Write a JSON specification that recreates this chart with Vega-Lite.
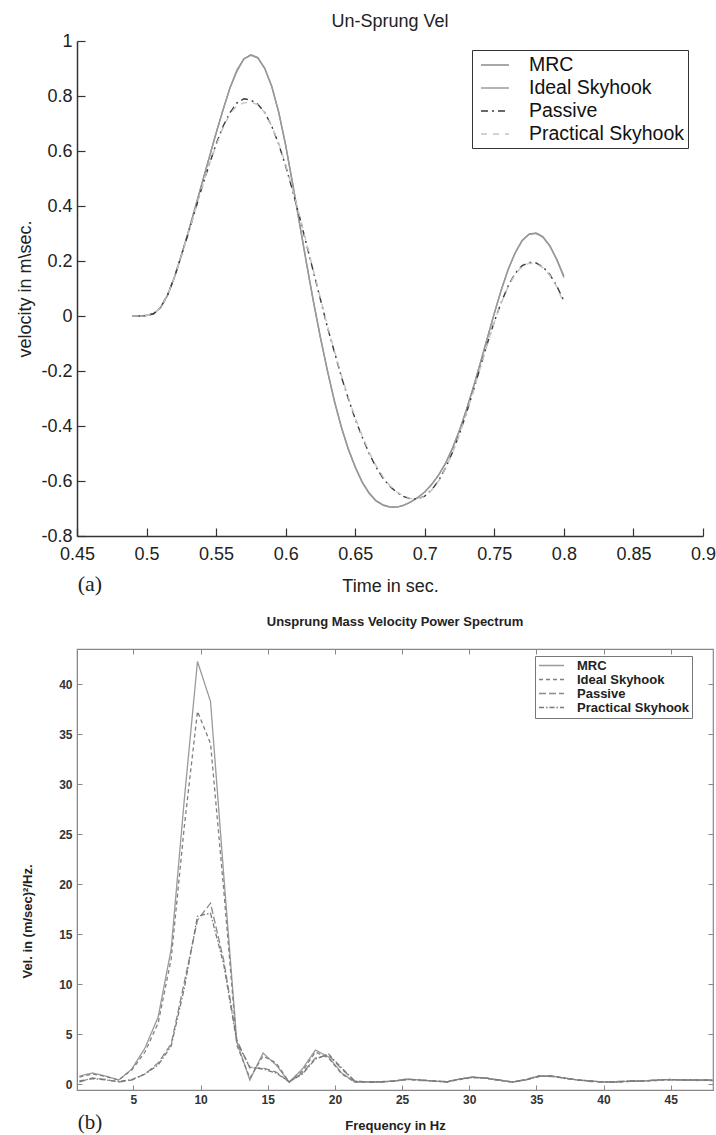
{
  "$schema": "https://vega.github.io/schema/vega-lite/v6.json",
  "background": "white",
  "padding": {"left": 16, "top": 13, "right": 0, "bottom": 0},
  "spacing": 113,
  "bounds": "flush",
  "config": {"font": "Liberation Sans", "view": {"stroke": null}},
  "resolve": {
    "scale": {"color": "independent", "strokeDash": "independent", "x": "independent", "y": "independent"},
    "legend": {"color": "independent", "strokeDash": "independent"}
  },
  "datasets": {
    "velocity": [
      {"t": 0.490, "MRC": 0, "Ideal Skyhook": 0, "Passive": 0, "Practical Skyhook": 0},
      {"t": 0.495, "MRC": 0, "Ideal Skyhook": 0, "Passive": 0, "Practical Skyhook": 0},
      {"t": 0.500, "MRC": 0.002, "Ideal Skyhook": 0.002, "Passive": 0.002, "Practical Skyhook": 0.002},
      {"t": 0.505, "MRC": 0.008, "Ideal Skyhook": 0.008, "Passive": 0.008, "Practical Skyhook": 0.008},
      {"t": 0.510, "MRC": 0.03, "Ideal Skyhook": 0.03, "Passive": 0.03, "Practical Skyhook": 0.03},
      {"t": 0.515, "MRC": 0.075, "Ideal Skyhook": 0.075, "Passive": 0.075, "Practical Skyhook": 0.075},
      {"t": 0.520, "MRC": 0.14, "Ideal Skyhook": 0.14, "Passive": 0.14, "Practical Skyhook": 0.14},
      {"t": 0.525, "MRC": 0.22, "Ideal Skyhook": 0.22, "Passive": 0.22, "Practical Skyhook": 0.22},
      {"t": 0.530, "MRC": 0.305, "Ideal Skyhook": 0.305, "Passive": 0.30, "Practical Skyhook": 0.30},
      {"t": 0.535, "MRC": 0.395, "Ideal Skyhook": 0.395, "Passive": 0.385, "Practical Skyhook": 0.385},
      {"t": 0.540, "MRC": 0.485, "Ideal Skyhook": 0.485, "Passive": 0.47, "Practical Skyhook": 0.47},
      {"t": 0.545, "MRC": 0.575, "Ideal Skyhook": 0.575, "Passive": 0.55, "Practical Skyhook": 0.55},
      {"t": 0.550, "MRC": 0.665, "Ideal Skyhook": 0.665, "Passive": 0.625, "Practical Skyhook": 0.62},
      {"t": 0.555, "MRC": 0.75, "Ideal Skyhook": 0.75, "Passive": 0.69, "Practical Skyhook": 0.685},
      {"t": 0.560, "MRC": 0.83, "Ideal Skyhook": 0.83, "Passive": 0.74, "Practical Skyhook": 0.735},
      {"t": 0.565, "MRC": 0.895, "Ideal Skyhook": 0.89, "Passive": 0.775, "Practical Skyhook": 0.765},
      {"t": 0.570, "MRC": 0.935, "Ideal Skyhook": 0.935, "Passive": 0.79, "Practical Skyhook": 0.775},
      {"t": 0.575, "MRC": 0.95, "Ideal Skyhook": 0.948, "Passive": 0.785, "Practical Skyhook": 0.778},
      {"t": 0.580, "MRC": 0.94, "Ideal Skyhook": 0.938, "Passive": 0.77, "Practical Skyhook": 0.768},
      {"t": 0.585, "MRC": 0.90, "Ideal Skyhook": 0.90, "Passive": 0.74, "Practical Skyhook": 0.74},
      {"t": 0.590, "MRC": 0.835, "Ideal Skyhook": 0.835, "Passive": 0.69, "Practical Skyhook": 0.69},
      {"t": 0.595, "MRC": 0.74, "Ideal Skyhook": 0.742, "Passive": 0.625, "Practical Skyhook": 0.628},
      {"t": 0.600, "MRC": 0.62, "Ideal Skyhook": 0.622, "Passive": 0.545, "Practical Skyhook": 0.55},
      {"t": 0.605, "MRC": 0.48, "Ideal Skyhook": 0.483, "Passive": 0.455, "Practical Skyhook": 0.46},
      {"t": 0.610, "MRC": 0.335, "Ideal Skyhook": 0.338, "Passive": 0.36, "Practical Skyhook": 0.365},
      {"t": 0.615, "MRC": 0.19, "Ideal Skyhook": 0.193, "Passive": 0.26, "Practical Skyhook": 0.265},
      {"t": 0.620, "MRC": 0.05, "Ideal Skyhook": 0.053, "Passive": 0.16, "Practical Skyhook": 0.165},
      {"t": 0.625, "MRC": -0.08, "Ideal Skyhook": -0.077, "Passive": 0.06, "Practical Skyhook": 0.065},
      {"t": 0.630, "MRC": -0.20, "Ideal Skyhook": -0.197, "Passive": -0.04, "Practical Skyhook": -0.035},
      {"t": 0.635, "MRC": -0.31, "Ideal Skyhook": -0.307, "Passive": -0.13, "Practical Skyhook": -0.125},
      {"t": 0.640, "MRC": -0.405, "Ideal Skyhook": -0.402, "Passive": -0.22, "Practical Skyhook": -0.215},
      {"t": 0.645, "MRC": -0.485, "Ideal Skyhook": -0.482, "Passive": -0.30, "Practical Skyhook": -0.295},
      {"t": 0.650, "MRC": -0.55, "Ideal Skyhook": -0.548, "Passive": -0.375, "Practical Skyhook": -0.37},
      {"t": 0.655, "MRC": -0.605, "Ideal Skyhook": -0.603, "Passive": -0.44, "Practical Skyhook": -0.435},
      {"t": 0.660, "MRC": -0.645, "Ideal Skyhook": -0.643, "Passive": -0.50, "Practical Skyhook": -0.495},
      {"t": 0.665, "MRC": -0.673, "Ideal Skyhook": -0.671, "Passive": -0.55, "Practical Skyhook": -0.545},
      {"t": 0.670, "MRC": -0.688, "Ideal Skyhook": -0.687, "Passive": -0.59, "Practical Skyhook": -0.585},
      {"t": 0.675, "MRC": -0.695, "Ideal Skyhook": -0.694, "Passive": -0.62, "Practical Skyhook": -0.617},
      {"t": 0.680, "MRC": -0.695, "Ideal Skyhook": -0.695, "Passive": -0.642, "Practical Skyhook": -0.64},
      {"t": 0.685, "MRC": -0.688, "Ideal Skyhook": -0.688, "Passive": -0.657, "Practical Skyhook": -0.655},
      {"t": 0.690, "MRC": -0.676, "Ideal Skyhook": -0.676, "Passive": -0.665, "Practical Skyhook": -0.664},
      {"t": 0.695, "MRC": -0.66, "Ideal Skyhook": -0.66, "Passive": -0.665, "Practical Skyhook": -0.665},
      {"t": 0.700, "MRC": -0.64, "Ideal Skyhook": -0.64, "Passive": -0.655, "Practical Skyhook": -0.656},
      {"t": 0.705, "MRC": -0.612, "Ideal Skyhook": -0.612, "Passive": -0.632, "Practical Skyhook": -0.633},
      {"t": 0.710, "MRC": -0.578, "Ideal Skyhook": -0.578, "Passive": -0.598, "Practical Skyhook": -0.60},
      {"t": 0.715, "MRC": -0.535, "Ideal Skyhook": -0.535, "Passive": -0.552, "Practical Skyhook": -0.553},
      {"t": 0.720, "MRC": -0.48, "Ideal Skyhook": -0.48, "Passive": -0.495, "Practical Skyhook": -0.496},
      {"t": 0.725, "MRC": -0.415, "Ideal Skyhook": -0.415, "Passive": -0.428, "Practical Skyhook": -0.43},
      {"t": 0.730, "MRC": -0.34, "Ideal Skyhook": -0.34, "Passive": -0.352, "Practical Skyhook": -0.354},
      {"t": 0.735, "MRC": -0.258, "Ideal Skyhook": -0.258, "Passive": -0.27, "Practical Skyhook": -0.272},
      {"t": 0.740, "MRC": -0.17, "Ideal Skyhook": -0.17, "Passive": -0.185, "Practical Skyhook": -0.187},
      {"t": 0.745, "MRC": -0.08, "Ideal Skyhook": -0.08, "Passive": -0.10, "Practical Skyhook": -0.102},
      {"t": 0.750, "MRC": 0.01, "Ideal Skyhook": 0.01, "Passive": -0.02, "Practical Skyhook": -0.022},
      {"t": 0.755, "MRC": 0.095, "Ideal Skyhook": 0.095, "Passive": 0.05, "Practical Skyhook": 0.048},
      {"t": 0.760, "MRC": 0.17, "Ideal Skyhook": 0.17, "Passive": 0.11, "Practical Skyhook": 0.108},
      {"t": 0.765, "MRC": 0.23, "Ideal Skyhook": 0.23, "Passive": 0.155, "Practical Skyhook": 0.152},
      {"t": 0.770, "MRC": 0.275, "Ideal Skyhook": 0.274, "Passive": 0.183, "Practical Skyhook": 0.18},
      {"t": 0.775, "MRC": 0.298, "Ideal Skyhook": 0.297, "Passive": 0.195, "Practical Skyhook": 0.192},
      {"t": 0.780, "MRC": 0.302, "Ideal Skyhook": 0.30, "Passive": 0.193, "Practical Skyhook": 0.19},
      {"t": 0.785, "MRC": 0.288, "Ideal Skyhook": 0.286, "Passive": 0.178, "Practical Skyhook": 0.175},
      {"t": 0.790, "MRC": 0.255, "Ideal Skyhook": 0.253, "Passive": 0.15, "Practical Skyhook": 0.147},
      {"t": 0.795, "MRC": 0.205, "Ideal Skyhook": 0.203, "Passive": 0.108, "Practical Skyhook": 0.105},
      {"t": 0.800, "MRC": 0.145, "Ideal Skyhook": 0.14, "Passive": 0.055, "Practical Skyhook": 0.045}
    ],
    "spectrum": [
      {"f": 0.98, "MRC": 0.8, "Ideal Skyhook": 0.7, "Passive": 0.2, "Practical Skyhook": 0.3},
      {"f": 1.95, "MRC": 1.1, "Ideal Skyhook": 1.0, "Passive": 0.6, "Practical Skyhook": 0.55},
      {"f": 2.93, "MRC": 0.8, "Ideal Skyhook": 0.75, "Passive": 0.45, "Practical Skyhook": 0.4},
      {"f": 3.91, "MRC": 0.4, "Ideal Skyhook": 0.4, "Passive": 0.2, "Practical Skyhook": 0.25},
      {"f": 4.88, "MRC": 1.5, "Ideal Skyhook": 1.4, "Passive": 0.4, "Practical Skyhook": 0.45},
      {"f": 5.86, "MRC": 3.6, "Ideal Skyhook": 3.2, "Passive": 1.0, "Practical Skyhook": 1.0},
      {"f": 6.84, "MRC": 6.7, "Ideal Skyhook": 6.1, "Passive": 2.1, "Practical Skyhook": 1.9},
      {"f": 7.81, "MRC": 13.5, "Ideal Skyhook": 12.5, "Passive": 4.0, "Practical Skyhook": 3.8},
      {"f": 8.79, "MRC": 28.5, "Ideal Skyhook": 25.8, "Passive": 10.2, "Practical Skyhook": 9.6},
      {"f": 9.77, "MRC": 42.3, "Ideal Skyhook": 37.3, "Passive": 16.4, "Practical Skyhook": 16.8},
      {"f": 10.74, "MRC": 38.3, "Ideal Skyhook": 34.1, "Passive": 18.1, "Practical Skyhook": 17.1},
      {"f": 11.72, "MRC": 21.0, "Ideal Skyhook": 19.5, "Passive": 12.4, "Practical Skyhook": 12.0},
      {"f": 12.70, "MRC": 4.2, "Ideal Skyhook": 3.9, "Passive": 4.4, "Practical Skyhook": 4.2},
      {"f": 13.67, "MRC": 0.4, "Ideal Skyhook": 0.6, "Passive": 1.6, "Practical Skyhook": 1.7},
      {"f": 14.65, "MRC": 3.1, "Ideal Skyhook": 2.8, "Passive": 1.6, "Practical Skyhook": 1.5},
      {"f": 15.63, "MRC": 1.9, "Ideal Skyhook": 2.1, "Passive": 1.2, "Practical Skyhook": 1.1},
      {"f": 16.60, "MRC": 0.2, "Ideal Skyhook": 0.2, "Passive": 0.2, "Practical Skyhook": 0.2},
      {"f": 17.58, "MRC": 1.5, "Ideal Skyhook": 1.3, "Passive": 1.1, "Practical Skyhook": 1.0},
      {"f": 18.55, "MRC": 3.4, "Ideal Skyhook": 3.2, "Passive": 2.6, "Practical Skyhook": 2.5},
      {"f": 19.53, "MRC": 2.7, "Ideal Skyhook": 2.6, "Passive": 2.9, "Practical Skyhook": 3.0},
      {"f": 20.51, "MRC": 1.1, "Ideal Skyhook": 1.0, "Passive": 1.5, "Practical Skyhook": 1.6},
      {"f": 21.48, "MRC": 0.2, "Ideal Skyhook": 0.2, "Passive": 0.3, "Practical Skyhook": 0.3},
      {"f": 22.46, "MRC": 0.2, "Ideal Skyhook": 0.2, "Passive": 0.2, "Practical Skyhook": 0.2},
      {"f": 23.44, "MRC": 0.2, "Ideal Skyhook": 0.25, "Passive": 0.2, "Practical Skyhook": 0.2},
      {"f": 24.41, "MRC": 0.3, "Ideal Skyhook": 0.3, "Passive": 0.3, "Practical Skyhook": 0.3},
      {"f": 25.39, "MRC": 0.5, "Ideal Skyhook": 0.45, "Passive": 0.5, "Practical Skyhook": 0.45},
      {"f": 26.37, "MRC": 0.4, "Ideal Skyhook": 0.4, "Passive": 0.35, "Practical Skyhook": 0.4},
      {"f": 27.34, "MRC": 0.3, "Ideal Skyhook": 0.3, "Passive": 0.3, "Practical Skyhook": 0.3},
      {"f": 28.32, "MRC": 0.2, "Ideal Skyhook": 0.2, "Passive": 0.25, "Practical Skyhook": 0.2},
      {"f": 29.30, "MRC": 0.5, "Ideal Skyhook": 0.45, "Passive": 0.5, "Practical Skyhook": 0.5},
      {"f": 30.27, "MRC": 0.7, "Ideal Skyhook": 0.65, "Passive": 0.7, "Practical Skyhook": 0.65},
      {"f": 31.25, "MRC": 0.6, "Ideal Skyhook": 0.6, "Passive": 0.55, "Practical Skyhook": 0.6},
      {"f": 32.23, "MRC": 0.4, "Ideal Skyhook": 0.35, "Passive": 0.4, "Practical Skyhook": 0.4},
      {"f": 33.20, "MRC": 0.2, "Ideal Skyhook": 0.2, "Passive": 0.2, "Practical Skyhook": 0.2},
      {"f": 34.18, "MRC": 0.4, "Ideal Skyhook": 0.4, "Passive": 0.45, "Practical Skyhook": 0.4},
      {"f": 35.16, "MRC": 0.8, "Ideal Skyhook": 0.75, "Passive": 0.8, "Practical Skyhook": 0.75},
      {"f": 36.13, "MRC": 0.8, "Ideal Skyhook": 0.8, "Passive": 0.75, "Practical Skyhook": 0.8},
      {"f": 37.11, "MRC": 0.6, "Ideal Skyhook": 0.6, "Passive": 0.6, "Practical Skyhook": 0.55},
      {"f": 38.09, "MRC": 0.4, "Ideal Skyhook": 0.4, "Passive": 0.4, "Practical Skyhook": 0.4},
      {"f": 39.06, "MRC": 0.3, "Ideal Skyhook": 0.3, "Passive": 0.25, "Practical Skyhook": 0.3},
      {"f": 40.04, "MRC": 0.2, "Ideal Skyhook": 0.2, "Passive": 0.2, "Practical Skyhook": 0.2},
      {"f": 41.02, "MRC": 0.2, "Ideal Skyhook": 0.2, "Passive": 0.25, "Practical Skyhook": 0.2},
      {"f": 41.99, "MRC": 0.3, "Ideal Skyhook": 0.25, "Passive": 0.3, "Practical Skyhook": 0.3},
      {"f": 42.97, "MRC": 0.3, "Ideal Skyhook": 0.3, "Passive": 0.3, "Practical Skyhook": 0.3},
      {"f": 43.95, "MRC": 0.4, "Ideal Skyhook": 0.35, "Passive": 0.4, "Practical Skyhook": 0.4},
      {"f": 44.92, "MRC": 0.45, "Ideal Skyhook": 0.45, "Passive": 0.4, "Practical Skyhook": 0.45},
      {"f": 45.90, "MRC": 0.4, "Ideal Skyhook": 0.4, "Passive": 0.4, "Practical Skyhook": 0.4},
      {"f": 46.88, "MRC": 0.4, "Ideal Skyhook": 0.4, "Passive": 0.35, "Practical Skyhook": 0.4},
      {"f": 47.85, "MRC": 0.4, "Ideal Skyhook": 0.35, "Passive": 0.4, "Practical Skyhook": 0.4},
      {"f": 48.83, "MRC": 0.3, "Ideal Skyhook": 0.3, "Passive": 0.3, "Practical Skyhook": 0.3}
    ]
  },
  "vconcat": [
    {
      "width": 626,
      "height": 495,
      "title": {"text": "Un-Sprung Vel", "fontSize": 18, "fontWeight": "normal", "color": "#222", "frame": "group", "anchor": "middle", "offset": 1},
      "layer": [
        {
          "data": {"name": "velocity"},
          "transform": [{"fold": ["MRC", "Ideal Skyhook", "Passive", "Practical Skyhook"], "as": ["series", "v"]}],
          "mark": {"type": "line", "strokeWidth": 1.4, "clip": true},
          "encoding": {
            "x": {"field": "t", "type": "quantitative",
              "scale": {"domain": [0.45, 0.9], "nice": false, "zero": false},
              "axis": {"values": [0.45, 0.5, 0.55, 0.6, 0.65, 0.7, 0.75, 0.8, 0.85, 0.9], "format": "~g",
                "title": "Time in sec.", "titleFontSize": 18, "titleFontWeight": "normal", "titleColor": "#222", "titleY": 50, "titleBaseline": "middle",
                "labelFontSize": 18, "labelColor": "#222", "labelPadding": 17, "labelFlush": false, "labelOverlap": false,
                "tickSize": -8, "tickColor": "#333", "tickWidth": 1.2, "domainColor": "#333", "domainWidth": 1.5, "grid": false}},
            "y": {"field": "v", "type": "quantitative",
              "scale": {"domain": [-0.8, 1], "nice": false, "zero": false},
              "axis": {"values": [-0.8, -0.6, -0.4, -0.2, 0, 0.2, 0.4, 0.6, 0.8, 1], "format": "~g", "labelExpr": "replace(datum.label, '\u2212', '-')",
                "title": "velocity in m\\sec.", "titleFontSize": 18, "titleFontWeight": "normal", "titleColor": "#222", "titleX": -52, "titleBaseline": "middle",
                "labelFontSize": 18, "labelColor": "#222", "labelPadding": 13, "labelFlush": false, "labelOverlap": false,
                "tickSize": -8, "tickColor": "#333", "tickWidth": 1.2, "domainColor": "#333", "domainWidth": 1.5, "grid": false}},
            "color": {"field": "series", "type": "nominal",
              "scale": {"domain": ["MRC", "Ideal Skyhook", "Passive", "Practical Skyhook"], "range": ["#8c8c8c", "#9a9a9a", "#3a3a3a", "#c4c4c4"]},
              "legend": {"orient": "none", "legendX": 395, "legendY": 9, "title": null, "labelFont": "Liberation Sans", "labelFontSize": 19.5, "labelColor": "#111", "labelLimit": 400,
                "symbolType": "M-1.4,0H1.4", "symbolSize": 400, "symbolStrokeWidth": 1.6, "symbolOffset": 8, "strokeColor": "#333", "fillColor": "white", "padding": 4, "rowPadding": 2, "labelOffset": 23}},
            "strokeDash": {"field": "series", "type": "nominal",
              "scale": {"domain": ["MRC", "Ideal Skyhook", "Passive", "Practical Skyhook"], "range": [[1, 0], [1, 0], [7, 4, 2, 4], [6, 6]]},
              "legend": {"orient": "none", "legendX": 395, "legendY": 9, "title": null, "labelFont": "Liberation Sans", "labelFontSize": 19.5, "labelColor": "#111", "labelLimit": 400,
                "symbolType": "M-1.4,0H1.4", "symbolSize": 400, "symbolStrokeWidth": 1.6, "symbolOffset": 8, "strokeColor": "#333", "fillColor": "white", "padding": 4, "rowPadding": 2, "labelOffset": 23}}
          }
        },
        {
          "data": {"values": [{"label": "(a)"}]},
          "mark": {"type": "text", "font": "Liberation Serif", "fontSize": 22, "align": "center", "baseline": "middle", "color": "#222"},
          "encoding": {
            "x": {"datum": 0.4593, "type": "quantitative"},
            "y": {"datum": -0.975, "type": "quantitative"},
            "text": {"field": "label"}
          }
        }
      ]
    },
    {
      "width": 636,
      "height": 441,
      "view": {"stroke": "#888", "strokeWidth": 1.2},
      "title": {"text": "Unsprung Mass Velocity Power Spectrum", "fontSize": 13, "fontWeight": "bold", "color": "#222", "frame": "group", "anchor": "middle", "offset": 20},
      "resolve": {"axis": {"x": "independent", "y": "independent"}},
      "layer": [
        {
          "data": {"name": "spectrum"},
          "transform": [{"fold": ["MRC", "Ideal Skyhook", "Passive", "Practical Skyhook"], "as": ["series", "p"]}],
          "mark": {"type": "line", "strokeWidth": 1.3, "clip": true},
          "encoding": {
            "x": {"field": "f", "type": "quantitative",
              "scale": {"domain": [0.8, 48.15], "nice": false, "zero": false},
              "axis": {"values": [5, 10, 15, 20, 25, 30, 35, 40, 45], "title": "Frequency in Hz", "titleFontSize": 13, "titleFontWeight": "bold", "titleColor": "#222", "titleY": 35, "titleBaseline": "middle",
                "labelFontSize": 12, "labelFontWeight": "bold", "labelColor": "#333", "labelPadding": 9, "labelFlush": false,
                "tickSize": -5, "tickColor": "#888", "domainColor": "#888", "grid": false}},
            "y": {"field": "p", "type": "quantitative",
              "scale": {"domain": [-0.6, 43.55], "nice": false, "zero": false},
              "axis": {"values": [0, 5, 10, 15, 20, 25, 30, 35, 40], "title": "Vel. in (m/sec)²/Hz.", "titleFontSize": 13, "titleFontWeight": "bold", "titleColor": "#222", "titleX": -50, "titleY": 272, "titleBaseline": "middle",
                "labelFontSize": 12, "labelFontWeight": "bold", "labelColor": "#333", "labelPadding": 10, "labelFlush": false,
                "tickSize": -5, "tickColor": "#888", "domainColor": "#888", "grid": false}},
            "color": {"field": "series", "type": "nominal",
              "scale": {"domain": ["MRC", "Ideal Skyhook", "Passive", "Practical Skyhook"], "range": ["#9a9a9a", "#808080", "#8a8a8a", "#7a7a7a"]},
              "legend": {"orient": "none", "legendX": 458, "legendY": 7, "title": null, "labelFont": "Liberation Sans", "labelFontSize": 13, "labelFontWeight": "bold", "labelColor": "#222", "labelLimit": 300,
                "symbolType": "M-2.5,0H2.5", "symbolSize": 100, "symbolStrokeWidth": 1.3, "symbolOffset": 7, "strokeColor": "#777", "fillColor": "white", "padding": 3, "rowPadding": 0, "labelOffset": 19}},
            "strokeDash": {"field": "series", "type": "nominal",
              "scale": {"domain": ["MRC", "Ideal Skyhook", "Passive", "Practical Skyhook"], "range": [[1, 0], [4, 3], [7, 3], [5, 2, 1.5, 2]]},
              "legend": {"orient": "none", "legendX": 458, "legendY": 7, "title": null, "labelFont": "Liberation Sans", "labelFontSize": 13, "labelFontWeight": "bold", "labelColor": "#222", "labelLimit": 300,
                "symbolType": "M-2.5,0H2.5", "symbolSize": 100, "symbolStrokeWidth": 1.3, "symbolOffset": 7, "strokeColor": "#777", "fillColor": "white", "padding": 3, "rowPadding": 0, "labelOffset": 19}}
          }
        },
        {
          "data": {"name": "spectrum"},
          "mark": {"type": "point", "opacity": 0, "clip": true},
          "encoding": {
            "x": {"field": "f", "type": "quantitative",
              "axis": {"orient": "top", "values": [5, 10, 15, 20, 25, 30, 35, 40, 45], "labels": false, "title": null, "domain": false, "tickSize": -5, "tickColor": "#888", "grid": false}},
            "y": {"field": "MRC", "type": "quantitative",
              "axis": {"orient": "right", "values": [0, 5, 10, 15, 20, 25, 30, 35, 40], "labels": false, "title": null, "domain": false, "tickSize": -5, "tickColor": "#888", "grid": false}}
          }
        },
        {
          "data": {"values": [{"label": "(b)"}]},
          "mark": {"type": "text", "font": "Liberation Serif", "fontSize": 21, "align": "center", "baseline": "middle", "color": "#222"},
          "encoding": {
            "x": {"datum": 1.77, "type": "quantitative", "axis": null},
            "y": {"datum": -3.9, "type": "quantitative", "axis": null},
            "text": {"field": "label"}
          }
        }
      ]
    }
  ]
}
